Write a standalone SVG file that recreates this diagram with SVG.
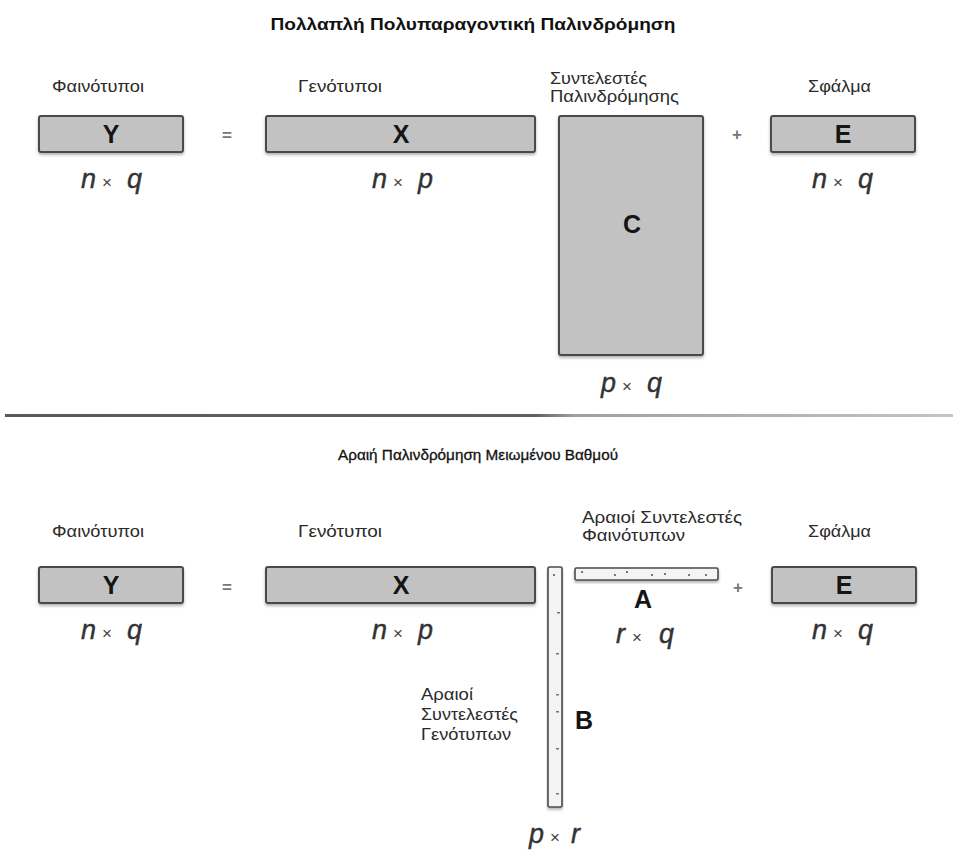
<svg xmlns="http://www.w3.org/2000/svg" width="953" height="852" viewBox="0 0 953 852">
<defs>
<filter id="sh" x="-10%" y="-10%" width="120%" height="140%">
<feDropShadow dx="0" dy="2" stdDeviation="1.5" flood-color="#000" flood-opacity="0.3"/>
</filter>
<linearGradient id="sep" x1="0" y1="0" x2="1" y2="0">
<stop offset="0" stop-color="#5a5a5a"/>
<stop offset="0.56" stop-color="#606060"/>
<stop offset="0.6" stop-color="#a0a0a0"/>
<stop offset="1" stop-color="#c4c4c4"/>
</linearGradient>
<style>
.mat{fill:#c2c2c2;stroke:#4a4a4a;stroke-width:2;filter:url(#sh)}
.sp{fill:#f4f4f4;stroke:#4a4a4a;stroke-width:1.6;filter:url(#sh)}
.ml{font-family:"Liberation Sans",Arial,sans-serif;font-weight:bold;font-size:25px;fill:#151515;text-anchor:middle}
.lb{font-family:"Liberation Sans",Arial,sans-serif;font-size:17px;fill:#2a2a2a}
.dim{font-family:"Liberation Sans",Arial,sans-serif;font-style:italic;font-size:27px;fill:#333;stroke:#333;stroke-width:0.4}
.dim .x{font-style:normal;font-size:17px;stroke-width:0;fill:#444}
.op{font-family:"Liberation Sans",Arial,sans-serif;font-weight:bold;font-size:17px;fill:#777;text-anchor:middle}
.tt{font-family:"Liberation Sans",Arial,sans-serif;fill:#111;text-anchor:middle}
.dot{fill:#777}
</style>
</defs>
<rect width="953" height="852" fill="#fff"/>

<text class="tt" x="473" y="30" font-size="17" font-weight="bold" textLength="405" lengthAdjust="spacingAndGlyphs">Πολλαπλή Πολυπαραγοντική Παλινδρόμηση</text>

<g id="top-Y">
<text class="lb" x="52" y="92" textLength="92" lengthAdjust="spacingAndGlyphs">Φαινότυποι</text>
<rect class="mat" x="39" y="116" width="144" height="36" rx="2"/>
<text class="ml" x="111" y="143">Y</text>
<text class="dim" y="188"><tspan x="81">n</tspan><tspan class="x" x="102">×</tspan><tspan x="127">q</tspan></text>
</g>
<g id="top-eq"><text class="op" x="227" y="141">=</text></g>
<g id="top-X">
<text class="lb" x="298" y="92" textLength="84" lengthAdjust="spacingAndGlyphs">Γενότυποι</text>
<rect class="mat" x="266" y="116" width="269" height="36" rx="2"/>
<text class="ml" x="401" y="143">X</text>
<text class="dim" y="188"><tspan x="372">n</tspan><tspan class="x" x="393">×</tspan><tspan x="418">p</tspan></text>
</g>
<g id="top-C">
<text class="lb" x="550" y="84" textLength="97" lengthAdjust="spacingAndGlyphs">Συντελεστές</text>
<text class="lb" x="550" y="102" textLength="129" lengthAdjust="spacingAndGlyphs">Παλινδρόμησης</text>
<rect class="mat" x="559" y="116" width="144" height="239" rx="2"/>
<text class="ml" x="632" y="233">C</text>
<text class="dim" y="392"><tspan x="601">p</tspan><tspan class="x" x="622">×</tspan><tspan x="647">q</tspan></text>
</g>
<g id="top-plus"><text class="op" x="737" y="140">+</text></g>
<g id="top-E">
<text class="lb" x="808" y="92" textLength="63" lengthAdjust="spacingAndGlyphs">Σφάλμα</text>
<rect class="mat" x="771" y="116" width="144" height="36" rx="2"/>
<text class="ml" x="843" y="143">E</text>
<text class="dim" y="188"><tspan x="812">n</tspan><tspan class="x" x="833">×</tspan><tspan x="858">q</tspan></text>
</g>

<g id="connectors">
<rect x="5" y="414" width="948" height="3" fill="url(#sep)"/>
</g>

<text class="tt" x="478" y="460" font-size="15" stroke="#111" stroke-width="0.3" textLength="280" lengthAdjust="spacingAndGlyphs">Αραιή Παλινδρόμηση Μειωμένου Βαθμού</text>

<g id="bot-Y">
<text class="lb" x="52" y="537" textLength="92" lengthAdjust="spacingAndGlyphs">Φαινότυποι</text>
<rect class="mat" x="39" y="567" width="144" height="36" rx="2"/>
<text class="ml" x="111" y="594">Y</text>
<text class="dim" y="639"><tspan x="81">n</tspan><tspan class="x" x="102">×</tspan><tspan x="127">q</tspan></text>
</g>
<g id="bot-eq"><text class="op" x="227" y="593">=</text></g>
<g id="bot-X">
<text class="lb" x="298" y="537" textLength="84" lengthAdjust="spacingAndGlyphs">Γενότυποι</text>
<rect class="mat" x="266" y="567" width="269" height="36" rx="2"/>
<text class="ml" x="401" y="594">X</text>
<text class="dim" y="639"><tspan x="372">n</tspan><tspan class="x" x="393">×</tspan><tspan x="418">p</tspan></text>
</g>
<g id="bot-B">
<text class="lb" x="421" y="700" textLength="52" lengthAdjust="spacingAndGlyphs">Αραιοί</text>
<text class="lb" x="421" y="720" textLength="97" lengthAdjust="spacingAndGlyphs">Συντελεστές</text>
<text class="lb" x="421" y="740" textLength="90" lengthAdjust="spacingAndGlyphs">Γενότυπων</text>
<rect class="sp" x="548" y="567" width="14" height="240" rx="1.5"/>
<g class="dot">
<rect x="553" y="574" width="2" height="2"/>
<rect x="557" y="612" width="3" height="1.5"/>
<rect x="556" y="653" width="3" height="1.5"/>
<rect x="556" y="694" width="3" height="1.5"/>
<rect x="556" y="711" width="3" height="1.5"/>
<rect x="556" y="748" width="3" height="1.5"/>
<rect x="556" y="793" width="3" height="1.5"/>
</g>
<text class="ml" x="584" y="729">B</text>
<text class="dim" y="843"><tspan x="529">p</tspan><tspan class="x" x="550">×</tspan><tspan x="571">r</tspan></text>
</g>
<g id="bot-A">
<text class="lb" x="582" y="523" textLength="160" lengthAdjust="spacingAndGlyphs">Αραιοί Συντελεστές</text>
<text class="lb" x="582" y="541" textLength="103" lengthAdjust="spacingAndGlyphs">Φαινότυπων</text>
<rect class="sp" x="575" y="568" width="143" height="12" rx="1.5"/>
<g class="dot">
<rect x="581" y="571" width="2" height="2"/>
<rect x="614" y="574" width="2" height="2"/>
<rect x="626" y="571" width="2" height="2"/>
<rect x="651" y="574" width="2" height="2"/>
<rect x="664" y="573" width="2" height="2"/>
<rect x="688" y="574" width="2" height="2"/>
<rect x="705" y="574" width="2" height="2"/>
</g>
<text class="ml" x="643" y="608">A</text>
<text class="dim" y="643"><tspan x="616">r</tspan><tspan class="x" x="632">×</tspan><tspan x="659">q</tspan></text>
</g>
<g id="bot-plus"><text class="op" x="738" y="593">+</text></g>
<g id="bot-E">
<text class="lb" x="808" y="537" textLength="63" lengthAdjust="spacingAndGlyphs">Σφάλμα</text>
<rect class="mat" x="772" y="567" width="144" height="36" rx="2"/>
<text class="ml" x="844" y="594">E</text>
<text class="dim" y="639"><tspan x="812">n</tspan><tspan class="x" x="833">×</tspan><tspan x="858">q</tspan></text>
</g>
</svg>
